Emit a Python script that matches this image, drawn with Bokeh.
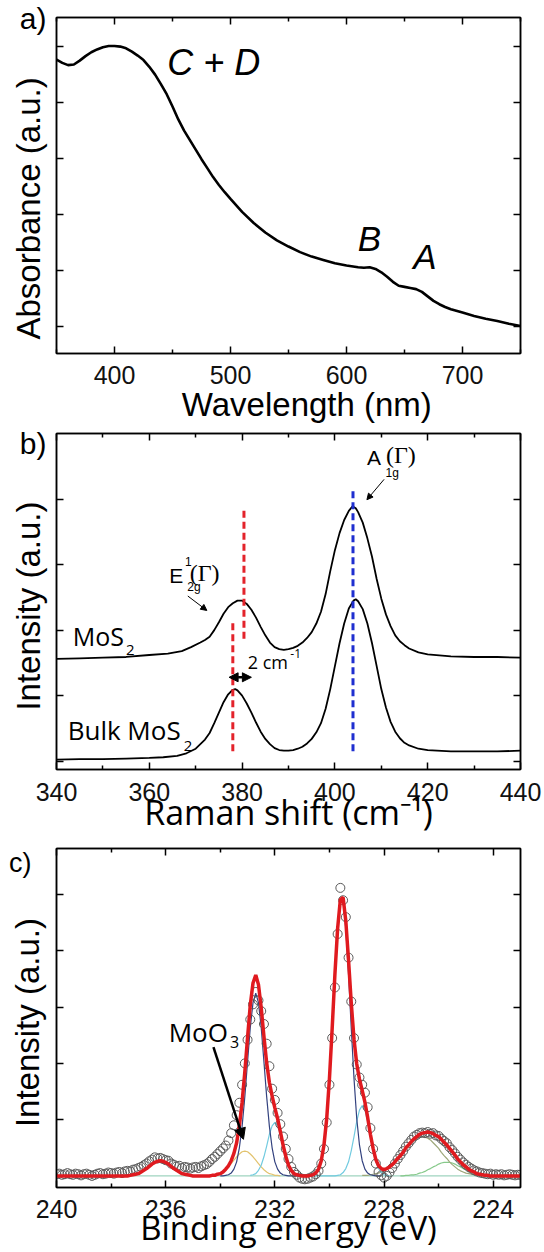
import numpy as np
from bokeh.plotting import figure
from bokeh.models import (Range1d, LinearAxis, FixedTicker, Label, Arrow,
                          NormalHead, CustomJSTickFormatter)
from bokeh.layouts import column
from bokeh.embed import file_html
from bokeh.resources import INLINE

SANS = "Liberation Sans"
OPEN = "Open Sans"
SERIF = "Liberation Serif"
NB = "\u00a0"

# ---------------- Panel a : UV-vis absorbance ----------------
wavelength_nm = [350, 355, 360, 365, 370, 375, 380, 385, 390, 395,
                 400, 405, 410, 415, 420, 425, 430, 435, 440, 445,
                 450, 455, 460, 465, 470, 475, 480, 485, 490, 495, 500,
                 510, 520, 530, 540, 550, 560, 570, 580, 590, 600,
                 610, 615, 620, 625, 630, 635, 640, 645, 650, 655, 660, 665,
                 670, 675, 680, 685, 690, 700, 710, 720, 730, 740, 750]
absorbance = [4.76, 4.70, 4.66, 4.67, 4.74, 4.82, 4.89, 4.94, 4.98, 5.00,
              5.00, 4.99, 4.96, 4.90, 4.83, 4.75, 4.63, 4.49, 4.32, 4.14,
              3.92, 3.69, 3.49, 3.32, 3.15, 2.98, 2.82, 2.66, 2.52, 2.39, 2.27,
              2.04, 1.84, 1.67, 1.53, 1.42, 1.32, 1.24, 1.18, 1.12, 1.08,
              1.05, 1.04, 1.05, 1.02, 0.96, 0.88, 0.79, 0.72, 0.70, 0.68, 0.66, 0.61,
              0.53, 0.45, 0.39, 0.34, 0.30, 0.24, 0.18, 0.13, 0.09, 0.04, 0.00]
wl_major_ticks = [400, 500, 600, 700]
wl_minor_ticks = [350, 450, 550, 650, 750]
abs_ticks = [0, 1, 2, 3, 4, 5]

# ---------------- Panel b : Raman ----------------
shift_bulk = [340, 345, 350, 355, 360, 363, 366, 368, 370, 372, 373, 374, 375, 376,
              377, 378, 378.5, 379, 380, 381, 382, 383, 384, 385, 386, 387, 388, 389,
              390, 391, 392, 393, 394, 395, 396, 397, 398, 399, 400, 401, 402, 403,
              404, 404.5, 405, 406, 407, 408, 409, 410, 411, 412, 413, 414, 415, 416,
              418, 420, 425, 430, 435, 440]
int_bulk = [0.025, 0.03, 0.03, 0.04, 0.05, 0.06, 0.08, 0.12, 0.19, 0.33, 0.43, 0.58, 0.74, 0.90,
            1.02, 1.09, 1.10, 1.08, 1.00, 0.88, 0.74, 0.59, 0.45, 0.34, 0.26, 0.20, 0.17, 0.16,
            0.16, 0.17, 0.19, 0.22, 0.27, 0.34, 0.44, 0.58, 0.80, 1.10, 1.45, 1.80, 2.10, 2.33,
            2.45, 2.47, 2.44, 2.32, 2.10, 1.80, 1.45, 1.10, 0.82, 0.60, 0.45, 0.35, 0.28, 0.24,
            0.19, 0.17, 0.15, 0.15, 0.15, 0.16]
shift_mono = [340, 345, 350, 355, 360, 364, 367, 369, 371, 372, 373, 374, 375, 376, 377,
              378, 379, 380, 381, 382, 383, 384, 385, 386, 387, 388, 389, 390, 391, 392,
              393, 394, 395, 396, 397, 398, 399, 400, 401, 402, 403, 403.8, 404.5, 405,
              406, 407, 408, 409, 410, 411, 412, 413, 414, 415, 416, 418, 420, 425, 430,
              435, 440]
int_mono = [1.56, 1.57, 1.58, 1.59, 1.62, 1.64, 1.68, 1.74, 1.81, 1.85, 1.90, 2.00, 2.12, 2.25, 2.35,
            2.41, 2.45, 2.45, 2.40, 2.31, 2.19, 2.05, 1.92, 1.81, 1.74, 1.71, 1.70, 1.71, 1.73, 1.76,
            1.81, 1.88, 1.97, 2.10, 2.28, 2.55, 2.90, 3.22, 3.48, 3.68, 3.82, 3.89, 3.86, 3.80,
            3.64, 3.40, 3.12, 2.78, 2.48, 2.24, 2.06, 1.92, 1.83, 1.77, 1.72, 1.66, 1.63, 1.60, 1.59,
            1.59, 1.58]
raman_major_ticks = [340, 360, 380, 400, 420, 440]
raman_minor_ticks = [350, 370, 390, 410, 430]
raman_y_ticks = [0, 1, 2, 3, 4]
e2g_peak_pos = [378.0, 380.4]     # bulk, thin MoS2
a1g_peak_pos = [403.9]

# ---------------- Panel c : XPS Mo 3d ----------------
be_start = 240.0
be_step = 0.1
xps_counts = [
    0.03, 0.04, 0.02, 0.03, 0.05, 0.03, 0.02, 0.04, 0.03, 0.01,
    0.03, 0.04, 0.02, 0.00, 0.02, 0.04, 0.05, 0.03, 0.04, 0.06,
    0.05, 0.04, 0.06, 0.07, 0.05, 0.08, 0.09, 0.08, 0.11, 0.12,
    0.14, 0.16, 0.19, 0.22, 0.26, 0.29, 0.33, 0.31, 0.32, 0.30,
    0.28, 0.27, 0.22, 0.20, 0.17, 0.18, 0.14, 0.16, 0.15, 0.13,
    0.15, 0.16, 0.14, 0.17, 0.19, 0.21, 0.25, 0.30, 0.34, 0.39,
    0.44, 0.49, 0.54, 0.63, 0.76, 0.90, 1.08, 1.30, 1.62, 2.00,
    2.42, 2.78, 3.05, 3.27, 3.12, 2.93, 2.70, 2.35, 1.95, 1.55,
    1.35, 1.12, 0.92, 0.70, 0.48, 0.30, 0.16, 0.07, 0.02, -0.03,
    -0.05, -0.06, -0.05, -0.03, -0.01, 0.03, 0.09, 0.22, 0.48, 0.95,
    1.62, 2.45, 3.35, 4.30, 5.12, 4.90, 4.60, 3.88, 3.10, 2.45,
    1.98, 1.75, 1.62, 1.48, 1.22, 0.85, 0.48, 0.22, 0.07, 0.01,
    -0.03, 0.00, 0.06, 0.14, 0.22, 0.30, 0.37, 0.44, 0.52, 0.58,
    0.64, 0.70, 0.73, 0.76, 0.77, 0.76, 0.78, 0.75, 0.76, 0.72,
    0.71, 0.66, 0.62, 0.58, 0.51, 0.46, 0.40, 0.34, 0.29, 0.24,
    0.20, 0.16, 0.13, 0.10, 0.08, 0.06, 0.05, 0.04, 0.03, 0.04,
    0.02, 0.03, 0.02, 0.03, 0.01, 0.02, 0.03, 0.02, 0.01, 0.02,
    0.02]
xps_fit = [
    0, 0, 0, 0, 0, 0, 0, 0, 0, 0,
    0, 0, 0, 0, 0, 0, 0, 0, 0, 0,
    0, 0, 0, 0, 0, 0, 0, 0.01, 0.02, 0.03,
    0.04, 0.07, 0.10, 0.13, 0.17, 0.21, 0.24, 0.26, 0.27, 0.26,
    0.24, 0.21, 0.17, 0.13, 0.10, 0.07, 0.04, 0.03, 0.02, 0.01,
    0, 0, 0, 0, 0, 0, 0, 0.01, 0.01, 0.03,
    0.04, 0.07, 0.12, 0.18, 0.27, 0.40, 0.59, 0.89, 1.31, 1.85,
    2.46, 3.04, 3.43, 3.57, 3.40, 2.99, 2.48, 2.01, 1.66, 1.42,
    1.21, 1.02, 0.79, 0.55, 0.35, 0.19, 0.10, 0.04, 0.02, 0.01,
    0, 0, 0, 0.01, 0.02, 0.05, 0.12, 0.27, 0.55, 1.02,
    1.73, 2.62, 3.58, 4.40, 4.91, 4.95, 4.53, 3.83, 3.07, 2.43,
    1.99, 1.72, 1.52, 1.31, 1.04, 0.74, 0.49, 0.29, 0.18, 0.13,
    0.11, 0.13, 0.16, 0.20, 0.25, 0.31, 0.36, 0.42, 0.50, 0.55,
    0.61, 0.66, 0.70, 0.74, 0.76, 0.77, 0.78, 0.77, 0.75, 0.72,
    0.70, 0.65, 0.60, 0.55, 0.49, 0.43, 0.37, 0.30, 0.25, 0.20,
    0.16, 0.12, 0.09, 0.07, 0.04, 0.03, 0.02, 0.01, 0.01, 0,
    0, 0, 0, 0, 0, 0, 0, 0, 0, 0,
    0]
comp_mos2_start = 234.0
comp_mos2 = [
    0, 0, 0.01, 0.02, 0.05, 0.12, 0.25, 0.50, 0.88, 1.41,
    2.03, 2.64, 3.08, 3.25, 3.08, 2.64, 2.03, 1.41, 0.88, 0.50,
    0.25, 0.12, 0.05, 0.02, 0.01, 0, 0, 0, 0, 0,
    0, 0, 0, 0.01, 0.02, 0.05, 0.12, 0.27, 0.55, 1.02,
    1.73, 2.62, 3.58, 4.40, 4.89, 4.89, 4.40, 3.58, 2.62, 1.73,
    1.02, 0.55, 0.27, 0.12, 0.05, 0.02, 0.01, 0, 0, 0]
comp_cyan_start = 232.9
comp_cyan = [
    0.01, 0.02, 0.04, 0.10, 0.19, 0.34, 0.53, 0.74, 0.89, 0.95,
    0.89, 0.74, 0.53, 0.34, 0.19, 0.10, 0.04, 0.02, 0.01, 0,
    0, 0, 0, 0, 0, 0, 0, 0, 0, 0,
    0, 0, 0.01, 0.02, 0.06, 0.13, 0.25, 0.45, 0.70, 0.97,
    1.17, 1.25, 1.17, 0.97, 0.70, 0.45, 0.25, 0.13, 0.06, 0.02,
    0.01, 0]
comp_moo3_start = 237.4
comp_moo3 = [
    0, 0.01, 0.02, 0.03, 0.04, 0.07, 0.10, 0.13, 0.17, 0.21,
    0.24, 0.26, 0.27, 0.26, 0.24, 0.21, 0.17, 0.13, 0.10, 0.07,
    0.04, 0.03, 0.02, 0.01, 0, 0, 0, 0, 0, 0,
    0, 0.01, 0.01, 0.03, 0.04, 0.07, 0.11, 0.16, 0.22, 0.28,
    0.34, 0.39, 0.43, 0.44, 0.43, 0.39, 0.34, 0.28, 0.22, 0.16,
    0.11, 0.07, 0.04, 0.03, 0.01, 0.01, 0]
comp_s2s_a_start = 228.8
comp_s2s_a = [
    0.01, 0.01, 0.01, 0.02, 0.03, 0.04, 0.05, 0.07, 0.09, 0.12,
    0.16, 0.20, 0.25, 0.31, 0.36, 0.42, 0.49, 0.54, 0.59, 0.64,
    0.67, 0.69, 0.70, 0.69, 0.67, 0.64, 0.59, 0.54, 0.49, 0.42,
    0.36, 0.31, 0.25, 0.20, 0.16, 0.12, 0.09, 0.07, 0.05, 0.04,
    0.03, 0.02, 0.01, 0.01, 0]
comp_s2s_b_start = 227.4
comp_s2s_b = [
    0, 0, 0.01, 0.01, 0.02, 0.02, 0.03, 0.05, 0.06, 0.08,
    0.11, 0.13, 0.16, 0.18, 0.21, 0.23, 0.24, 0.24, 0.24, 0.23,
    0.21, 0.18, 0.16, 0.13, 0.11, 0.08, 0.06, 0.05, 0.03, 0.02,
    0.02, 0.01, 0.01, 0, 0]
be_major_ticks = [240, 236, 232, 228, 224]
be_minor_ticks = [238, 234, 230, 226]
xps_y_ticks = [1, 2, 3, 4, 5]

# vertical "middle" offset (fraction of font size) between box centre and baseline
MID = {SANS: 0.3465, OPEN: 0.388, SERIF: 0.3375}


def grid(start, n):
    return [round(start - be_step * i, 2) for i in range(n)]


def make_fig(height, xr, yr, top, bottom):
    p = figure(width=544, height=height, x_range=xr, y_range=yr,
               output_backend="svg", toolbar_location=None,
               min_border_left=56, min_border_right=24,
               min_border_top=top, min_border_bottom=bottom)
    p.grid.visible = False
    p.outline_line_color = "black"
    p.outline_line_width = 1.5
    p.background_fill_color = "white"
    p.border_fill_color = "white"
    return p


def tick_style(ax):
    ax.major_tick_in = 7
    ax.major_tick_out = 0
    ax.minor_tick_in = 4
    ax.minor_tick_out = 0
    ax.axis_line_color = "black"
    ax.axis_line_width = 1.5
    ax.major_tick_line_color = "black"
    ax.major_tick_line_width = 1.5
    ax.minor_tick_line_color = "black"
    ax.minor_tick_line_width = 1.5


def blank_axis(ticks, minor):
    ax = LinearAxis(ticker=FixedTicker(ticks=ticks, minor_ticks=minor),
                    formatter=CustomJSTickFormatter(code="return ''"),
                    major_label_text_font_size="1px", major_label_standoff=0)
    tick_style(ax)
    return ax


def style_axes(p, xmaj, xmin, yt, xlabel, xfont, xsize, xstand, xlab_stand,
               panel_tag, tag_y, tag_size, tag_stand, ylabel, ylab_stand):
    xa = p.xaxis[0]
    xa.ticker = FixedTicker(ticks=xmaj, minor_ticks=xmin)
    xa.major_label_text_font = SANS
    xa.major_label_text_font_size = "25px"
    xa.major_label_text_color = "#111111"
    xa.major_label_standoff = xstand
    xa.axis_label = xlabel
    xa.axis_label_text_font = xfont
    xa.axis_label_text_font_size = f"{xsize}px"
    xa.axis_label_text_font_style = "normal"
    xa.axis_label_text_color = "black"
    xa.axis_label_standoff = xlab_stand
    tick_style(xa)
    ya = p.yaxis[0]
    ya.ticker = FixedTicker(ticks=yt, minor_ticks=[])
    ya.formatter = CustomJSTickFormatter(code="return ''")
    ya.major_label_text_font_size = "1px"
    ya.major_label_standoff = 0
    tick_style(ya)
    p.add_layout(blank_axis(xmaj, xmin), "above")
    p.add_layout(blank_axis(yt, []), "right")
    # outer left axis: carries the panel tag and the y title
    tag = LinearAxis(ticker=FixedTicker(ticks=[tag_y], minor_ticks=[]),
                     formatter=CustomJSTickFormatter(code=f"return '{panel_tag}'"),
                     major_tick_in=0, major_tick_out=0, minor_tick_in=0, minor_tick_out=0,
                     axis_line_color=None, major_tick_line_color=None,
                     major_label_standoff=tag_stand,
                     major_label_text_font=SANS,
                     major_label_text_font_size=f"{tag_size}px",
                     major_label_text_color="black",
                     axis_label=ylabel, axis_label_text_font=SANS,
                     axis_label_text_font_size="33px",
                     axis_label_text_font_style="normal",
                     axis_label_text_color="black",
                     axis_label_standoff=ylab_stand)
    p.add_layout(tag, "left")


def lab(p, ppu, x, y, text, size, font=SANS, style="normal", align="left"):
    yy = y + MID[font] * size / ppu
    p.add_layout(Label(x=x, y=yy, text=text, text_font=font,
                       text_font_size=f"{size}px", text_font_style=style,
                       text_align=align, text_baseline="middle",
                       text_color="black"))


# ================= Panel a =================
PPU_A = 56.53
pa = make_fig(425, Range1d(350, 750), Range1d(-0.49, 5.51), 17, 69)
style_axes(pa, wl_major_ticks, wl_minor_ticks, abs_ticks,
           NB * 4 + "Wavelength (nm)", SANS, 33, 12, -1,
           "a)", 5.50, 30, 10, "Absorbance (a.u.)" + NB * 5, -30)
pa.line(wavelength_nm, absorbance, line_color="black", line_width=2.6)
lab(pa, PPU_A, 445.5, 4.48, "C + D", 36, style="italic")
lab(pa, PPU_A, 609.7, 1.355, "B", 35, style="italic")
lab(pa, PPU_A, 657.5, 1.03, "A", 35, style="italic")

# ================= Panel b =================
PPU_B = 66.0
pb = make_fig(412, Range1d(340, 440), Range1d(-0.127, 5.0), 8, 65)
style_axes(pb, raman_major_ticks, raman_minor_ticks, raman_y_ticks,
           "Raman shift (cm\u207b\u00b9)", OPEN, 34, 13, -15,
           "b)", 4.89, 30, 10, "Intensity (a.u.)" + NB, -30)
pb.line(shift_mono, int_mono, line_color="black", line_width=1.8)
pb.line(shift_bulk, int_bulk, line_color="black", line_width=1.8)
pb.segment(x0=e2g_peak_pos, y0=[0.15, 1.87], x1=e2g_peak_pos, y1=[2.14, 3.86],
           line_color="#e3232b", line_width=3, line_dash="7 4")
pb.segment(x0=a1g_peak_pos, y0=[0.15], x1=a1g_peak_pos, y1=[4.16],
           line_color="#1f2fd0", line_width=3, line_dash="7 4")
pb.add_layout(Arrow(start=NormalHead(size=9, fill_color="black", line_color="black"),
                    end=NormalHead(size=9, fill_color="black", line_color="black"),
                    x_start=e2g_peak_pos[0] - 0.8, y_start=1.28,
                    x_end=e2g_peak_pos[1] + 1.6, y_end=1.28,
                    line_color="black", line_width=2.5))
pb.add_layout(Arrow(end=NormalHead(size=6, fill_color="black", line_color="black"),
                    x_start=368.3, y_start=2.52, x_end=372.4, y_end=2.30,
                    line_color="black", line_width=1))
pb.add_layout(Arrow(end=NormalHead(size=6, fill_color="black", line_color="black"),
                    x_start=410.6, y_start=4.30, x_end=406.9, y_end=3.99,
                    line_color="black", line_width=1))
lab(pb, PPU_B, 364.3, 2.73, "E", 21)
lab(pb, PPU_B, 367.7, 2.98, "1", 12)
lab(pb, PPU_B, 368.2, 2.60, "2g", 12)
lab(pb, PPU_B, 368.7, 2.75, "(Γ)", 24, font=SERIF)
lab(pb, PPU_B, 406.9, 4.52, "A", 21)
lab(pb, PPU_B, 410.9, 4.34, "1g", 12)
lab(pb, PPU_B, 411.0, 4.55, "(Γ)", 24, font=SERIF)
lab(pb, PPU_B, 343.5, 1.76, "MoS", 25, font=OPEN)
lab(pb, PPU_B, 355.0, 1.615, "2", 15, font=OPEN)
lab(pb, PPU_B, 342.4, 0.327, "Bulk MoS", 26, font=OPEN)
lab(pb, PPU_B, 367.4, 0.15, "2", 15, font=OPEN)
lab(pb, PPU_B, 381.2, 1.41, "2 cm", 18, font=OPEN)
lab(pb, PPU_B, 390.4, 1.57, "-1", 12, font=OPEN)

# ================= Panel c =================
PPU_C = 56.67
pc = make_fig(415, Range1d(240, 223), Range1d(-0.206, 5.82), 11, 62)
style_axes(pc, be_major_ticks, be_minor_ticks, xps_y_ticks,
           "Binding energy (eV)", OPEN, 33, 12, -16,
           "c)", 5.57, 27, 25, "Intensity (a.u.)" + NB, -40)
be = grid(be_start, len(xps_counts))
be_fit = grid(be_start, len(xps_fit))
pc.line([be[0], be[-1]], [0, 0], line_color="#9fd4bf", line_width=1.2)
pc.line(grid(comp_moo3_start, len(comp_moo3)), comp_moo3, line_color="#e2c36e", line_width=1.2)
pc.line(grid(comp_s2s_b_start, len(comp_s2s_b)), comp_s2s_b, line_color="#86c98a", line_width=1.2)
pc.line(grid(comp_s2s_a_start, len(comp_s2s_a)), comp_s2s_a, line_color="#9da77a", line_width=1.2)
pc.line(grid(comp_cyan_start, len(comp_cyan)), comp_cyan, line_color="#72cbe0", line_width=1.2)
pc.line(grid(comp_mos2_start, len(comp_mos2)), comp_mos2, line_color="#33427f", line_width=1.2)
pc.scatter(be, xps_counts, marker="circle", size=9, fill_color=None,
           line_color="#5a5a5a", line_width=1)
pc.line(be_fit, xps_fit, line_color="#e01a1f", line_width=3.5)
pc.add_layout(Arrow(end=NormalHead(size=11, fill_color="black", line_color="black"),
                    x_start=234.25, y_start=2.29, x_end=233.15, y_end=0.65,
                    line_color="black", line_width=2.5))
lab(pc, PPU_C, 235.89, 2.38, "MoO", 26, font=OPEN)
lab(pc, PPU_C, 233.64, 2.27, "3", 16, font=OPEN)

layout = column(pa, pb, pc, spacing=0)
open("out.html", "w").write(file_html(layout, INLINE))
